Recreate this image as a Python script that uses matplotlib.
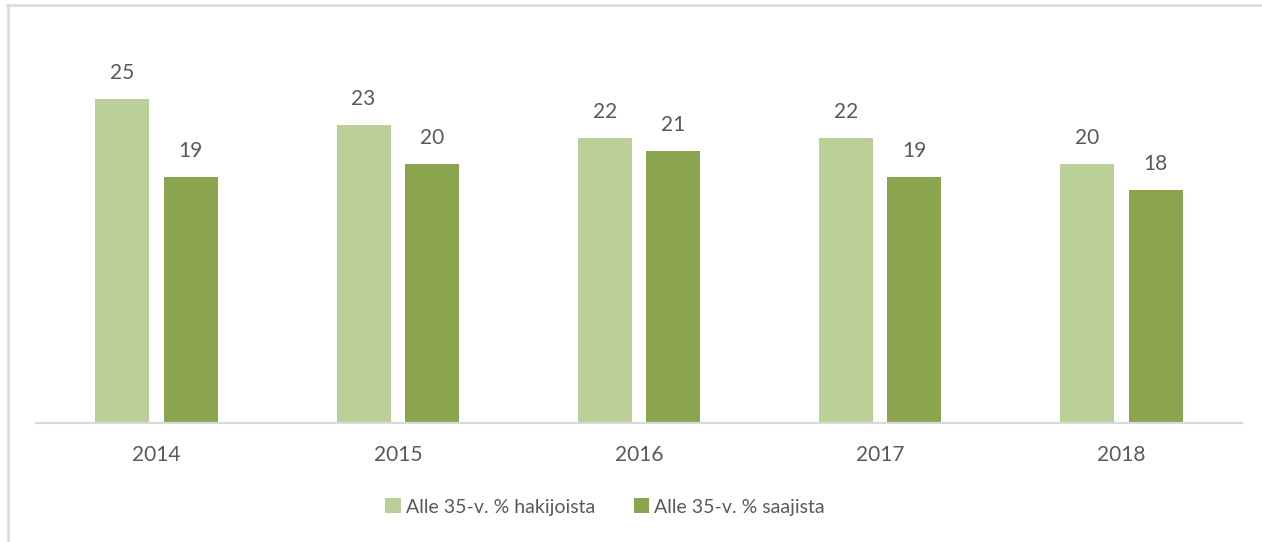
import matplotlib
matplotlib.use("Agg")
import matplotlib.pyplot as plt
from matplotlib.lines import Line2D
from matplotlib.patches import Patch
import numpy as np

years = ["2014", "2015", "2016", "2017", "2018"]
hakijoista = [25, 23, 22, 22, 20]
saajista = [19, 20, 21, 19, 18]
series_names = ["Alle 35-v. % hakijoista", "Alle 35-v. % saajista"]

light = "#BBCF98"
dark = "#8AA54E"
txt = "#595959"
grid = "#D9D9D9"

plt.rcParams['font.family'] = ['Lato', 'DejaVu Sans']

W, H = 1262, 542
fig = plt.figure(figsize=(W / 100, H / 100), dpi=100)
ax = fig.add_axes([36 / W, 119 / H, (1242 - 36) / W, 388.8 / H])

x = np.arange(len(years))
bw = 0.224
off = 0.142
b1 = ax.bar(x - off, hakijoista, bw, color=light, zorder=2)
b2 = ax.bar(x + off, saajista, bw, color=dark, zorder=2)

for bars, vals in ((b1, hakijoista), (b2, saajista)):
    for rect, v in zip(bars, vals):
        ax.annotate(f"{v}", (rect.get_x() + rect.get_width() / 2, v),
                    xytext=(0, 11.5), textcoords="offset points",
                    ha="center", va="bottom", fontsize=15, color=txt)

ax.set_xlim(-0.5, len(years) - 0.5)
ax.set_ylim(0, 30)
ax.set_xticks(x)
ax.set_xticklabels(years, fontsize=15, color=txt)
ax.tick_params(axis="x", length=0, pad=16)
ax.set_yticks([])
for s in ("top", "right", "left"):
    ax.spines[s].set_visible(False)
ax.spines["bottom"].set_color(grid)
ax.spines["bottom"].set_linewidth(1.6)
ax.spines["bottom"].set_zorder(3)

handles = [Patch(facecolor=light, edgecolor="none"), Patch(facecolor=dark, edgecolor="none")]
fig.legend(handles, series_names, loc="center", bbox_to_anchor=(605 / W, 35 / H),
           ncol=2, frameon=False, fontsize=14, labelcolor=txt,
           handlelength=0.8, handleheight=0.8, handletextpad=0.25, columnspacing=2.0)

# outer chart border (cropped on right and bottom)
fig.add_artist(Line2D([7.5 / W, 7.5 / W], [0, 1 - 5 / H], transform=fig.transFigure,
                      color=grid, lw=1.8))
fig.add_artist(Line2D([7 / W, 1], [1 - 5 / H, 1 - 5 / H], transform=fig.transFigure,
                      color=grid, lw=1.8))

fig.savefig("out.png", dpi=100)
